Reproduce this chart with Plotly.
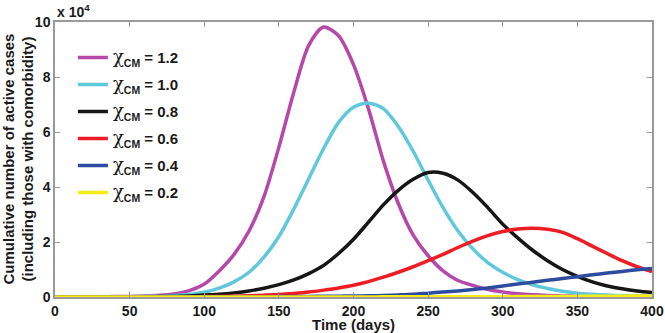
import plotly.graph_objects as go

days = list(range(0, 401, 10))

# Active cases in units of 10^4
chi_12 = [0.005, 0.006, 0.008, 0.011, 0.015, 0.022, 0.035, 0.06, 0.11, 0.23,
          0.47, 0.95, 1.55, 2.4, 3.65, 5.45, 7.45, 9.15, 9.82, 9.5,
          8.45, 6.85, 4.95, 3.4, 2.25, 1.5, 0.95, 0.6, 0.42, 0.27,
          0.18, 0.12, 0.08, 0.055, 0.04, 0.03, 0.02, 0.015, 0.01, 0.008, 0.006]
chi_10 = [0.003, 0.003, 0.004, 0.005, 0.007, 0.01, 0.02, 0.03, 0.05, 0.09,
          0.17, 0.32, 0.55, 0.9, 1.45, 2.2, 3.2, 4.3, 5.4, 6.35,
          6.9, 7.05, 6.85, 6.2, 5.3, 4.25, 3.25, 2.4, 1.75, 1.25,
          0.9, 0.63, 0.44, 0.31, 0.21, 0.14, 0.1, 0.07, 0.05, 0.035, 0.025]
chi_08 = [0.002, 0.002, 0.003, 0.004, 0.005, 0.007, 0.01, 0.014, 0.02, 0.04,
          0.07, 0.1, 0.15, 0.22, 0.32, 0.45, 0.62, 0.85, 1.15, 1.58,
          2.1, 2.72, 3.35, 3.88, 4.28, 4.53, 4.5, 4.25, 3.8, 3.25,
          2.65, 2.15, 1.7, 1.32, 1.0, 0.75, 0.55, 0.4, 0.3, 0.22, 0.16]
chi_06 = [0.001, 0.001, 0.002, 0.002, 0.003, 0.004, 0.005, 0.006, 0.008, 0.011,
          0.015, 0.02, 0.03, 0.045, 0.065, 0.09, 0.13, 0.18, 0.25, 0.33,
          0.43, 0.56, 0.72, 0.9, 1.1, 1.32, 1.55, 1.8, 2.03, 2.23,
          2.38, 2.47, 2.5, 2.46, 2.35, 2.12, 1.85, 1.58, 1.32, 1.1, 0.92]
chi_04 = [0.001, 0.001, 0.001, 0.002, 0.002, 0.002, 0.003, 0.003, 0.004, 0.005,
          0.006, 0.007, 0.008, 0.01, 0.012, 0.015, 0.018, 0.022, 0.026, 0.03,
          0.035, 0.045, 0.055, 0.075, 0.1, 0.14, 0.18, 0.22, 0.27, 0.33,
          0.4, 0.47, 0.54, 0.61, 0.67, 0.74, 0.81, 0.87, 0.93, 0.99, 1.04]
chi_02 = [0.0, 0.0, 0.0, 0.0, 0.0, 0.001, 0.001, 0.001, 0.001, 0.001,
          0.001, 0.001, 0.002, 0.002, 0.002, 0.002, 0.002, 0.003, 0.003, 0.003,
          0.004, 0.004, 0.005, 0.005, 0.006, 0.007, 0.008, 0.009, 0.01, 0.011,
          0.012, 0.014, 0.016, 0.018, 0.02, 0.022, 0.025, 0.028, 0.031, 0.035, 0.04]

series = [
    ("1.2", chi_12, "#B548A9"),
    ("1.0", chi_10, "#5FC9DB"),
    ("0.8", chi_08, "#161616"),
    ("0.6", chi_06, "#EE1D25"),
    ("0.4", chi_04, "#2D4B9F"),
    ("0.2", chi_02, "#F6EC16"),
]

x_ticks = list(range(0, 401, 50))
y_ticks = [0, 2, 4, 6, 8, 10]

FONT = "Liberation Sans, Arial, Helvetica, sans-serif"

fig = go.Figure()
for i, (lab, vals, col) in enumerate(series):
    fig.add_trace(go.Scatter(
        x=days, y=vals, mode="lines",
        line=dict(color=col, width=3.5, shape="spline", smoothing=0.8),
        name=("<span style='font-weight:normal;font-size:18px;font-family:DejaVu Serif'>χ</span>"
              "<sub>CM</sub> = " + lab),
        legendgroup="g%d" % i,
    ))

axis_common = dict(
    showline=True, linecolor="#9a9a9a", linewidth=1.5, mirror="ticks",
    ticks="inside", ticklen=5, tickcolor="#9a9a9a", tickwidth=1,
    showgrid=False, zeroline=False, automargin=False,
    tickfont=dict(family=FONT, size=14, color="#1a1a1a", weight="bold"),
)

fig.update_layout(
    width=665, height=333,
    margin=dict(l=55, r=13, t=22, b=36),
    paper_bgcolor="white", plot_bgcolor="white",
    font=dict(family=FONT, color="#1a1a1a"),
    xaxis=dict(range=[0, 400], tickvals=x_ticks, ticktext=[str(v) for v in x_ticks],
               **axis_common),
    yaxis=dict(range=[0, 10], tickvals=y_ticks, ticktext=[str(v) for v in y_ticks],
               **axis_common),
    legend=dict(x=0.03, y=0.93, xanchor="left", yanchor="top",
                bgcolor="rgba(0,0,0,0)", borderwidth=0,
                font=dict(family=FONT, size=15, color="#1a1a1a", weight="bold"),
                tracegroupgap=4.5, itemwidth=30),
    showlegend=True,
)

fig.add_annotation(text="<b>Cumulative number of active cases<br>(including those with comorbidity)</b>",
                   xref="paper", yref="paper", x=0, y=0.5, xanchor="center", yanchor="middle",
                   textangle=-90, showarrow=False, xshift=-37,
                   font=dict(family=FONT, size=15, color="#1a1a1a"))

fig.add_annotation(text="<b>x 10<sup>4</sup></b>", xref="paper", yref="paper",
                   x=0, y=1, xanchor="left", yanchor="bottom", showarrow=False,
                   font=dict(family=FONT, size=14, color="#1a1a1a"), yshift=0)

fig.add_annotation(text="<b>Time (days)</b>", xref="paper", yref="paper",
                   x=0.5, y=0, xanchor="center", yanchor="middle", showarrow=False,
                   font=dict(family=FONT, size=15, color="#1a1a1a"), yshift=-27)

fig.write_html("out.html", config={"displayModeBar": False},
               post_script="document.body.style.margin='0';")
